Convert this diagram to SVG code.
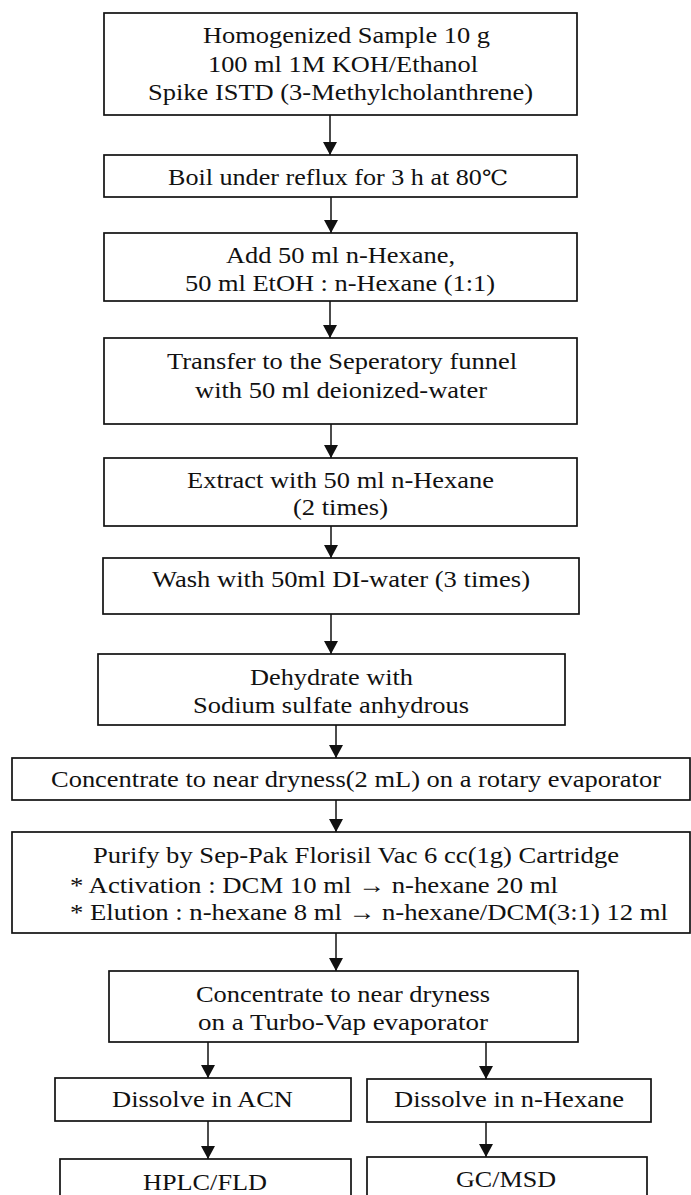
<svg xmlns="http://www.w3.org/2000/svg" width="691" height="1195" viewBox="0 0 691 1195">
  <style>
    .box { fill: #ffffff; stroke: #111111; stroke-width: 1.7; }
    .t { font-family: "Liberation Serif", "DejaVu Serif", "Noto Sans CJK KR", serif; font-size: 23.5px; fill: #111111; text-anchor: middle; }
    .s { text-anchor: start; }
    .link { stroke: #111111; stroke-width: 1.5; fill: none; marker-end: url(#arrow); }
  </style>
  <defs>
    <marker id="arrow" markerUnits="userSpaceOnUse" markerWidth="13" markerHeight="14" refX="13" refY="7" orient="auto">
      <path d="M0,0 L13,7 L0,14 z" fill="#111111"/>
    </marker>
  </defs>
  <rect width="691" height="1195" fill="#ffffff"/>

  <g id="connectors">
    <line class="link" x1="330" y1="115" x2="330" y2="155"/>
    <line class="link" x1="331" y1="197" x2="331" y2="233"/>
    <line class="link" x1="330" y1="301" x2="330" y2="338"/>
    <line class="link" x1="331" y1="424" x2="331" y2="458"/>
    <line class="link" x1="331" y1="526" x2="331" y2="558"/>
    <line class="link" x1="331" y1="614" x2="331" y2="654"/>
    <line class="link" x1="336" y1="725" x2="336" y2="758"/>
    <line class="link" x1="336" y1="800" x2="336" y2="832"/>
    <line class="link" x1="336" y1="933" x2="336" y2="971"/>
    <line class="link" x1="208" y1="1042" x2="208" y2="1078"/>
    <line class="link" x1="486" y1="1042" x2="486" y2="1079"/>
    <line class="link" x1="208" y1="1121" x2="208" y2="1159"/>
    <line class="link" x1="486" y1="1122" x2="486" y2="1157"/>
  </g>

  <g id="sample">
    <rect class="box" x="104" y="13" width="473" height="102"/>
    <text class="t" x="346.5" y="43" textLength="287" lengthAdjust="spacingAndGlyphs">Homogenized Sample 10 g</text>
    <text class="t" x="343" y="72" textLength="270" lengthAdjust="spacingAndGlyphs">100 ml 1M KOH/Ethanol</text>
    <text class="t" x="340.5" y="100" textLength="385" lengthAdjust="spacingAndGlyphs">Spike ISTD (3-Methylcholanthrene)</text>
  </g>

  <g id="reflux">
    <rect class="box" x="104" y="155" width="473" height="42"/>
    <text class="t" x="338" y="185" textLength="340" lengthAdjust="spacingAndGlyphs">Boil under reflux for 3 h at 80<tspan font-family="DejaVu Serif" font-size="21px">℃</tspan></text>
  </g>

  <g id="add-hexane">
    <rect class="box" x="104" y="233" width="473" height="68"/>
    <text class="t" x="340.5" y="263" textLength="229" lengthAdjust="spacingAndGlyphs">Add 50 ml n-Hexane,</text>
    <text class="t" x="340" y="291" textLength="310" lengthAdjust="spacingAndGlyphs">50 ml EtOH : n-Hexane (1:1)</text>
  </g>

  <g id="transfer">
    <rect class="box" x="104" y="338" width="473" height="86"/>
    <text class="t" x="342" y="369" textLength="350" lengthAdjust="spacingAndGlyphs">Transfer to the Seperatory funnel</text>
    <text class="t" x="341" y="398" textLength="292" lengthAdjust="spacingAndGlyphs">with 50 ml deionized-water</text>
  </g>

  <g id="extract">
    <rect class="box" x="104" y="458" width="473" height="68"/>
    <text class="t" x="340.5" y="488" textLength="307" lengthAdjust="spacingAndGlyphs">Extract with 50 ml n-Hexane</text>
    <text class="t" x="340.5" y="515" textLength="95" lengthAdjust="spacingAndGlyphs">(2 times)</text>
  </g>

  <g id="wash">
    <rect class="box" x="103" y="558" width="476" height="56"/>
    <text class="t" x="341" y="587" textLength="378" lengthAdjust="spacingAndGlyphs">Wash with 50ml DI-water (3 times)</text>
  </g>

  <g id="dehydrate">
    <rect class="box" x="98" y="654" width="467" height="71"/>
    <text class="t" x="331.5" y="685" textLength="163" lengthAdjust="spacingAndGlyphs">Dehydrate with</text>
    <text class="t" x="331" y="713" textLength="276" lengthAdjust="spacingAndGlyphs">Sodium sulfate anhydrous</text>
  </g>

  <g id="rotary">
    <rect class="box" x="12" y="758" width="678" height="42"/>
    <text class="t" x="356" y="787" textLength="610" lengthAdjust="spacingAndGlyphs">Concentrate to near dryness(2 mL) on a rotary evaporator</text>
  </g>

  <g id="purify">
    <rect class="box" x="12" y="832" width="678" height="101"/>
    <text class="t s" x="93" y="863" textLength="526" lengthAdjust="spacingAndGlyphs">Purify by Sep-Pak Florisil Vac 6 cc(1g) Cartridge</text>
    <text class="t s" x="70" y="893" textLength="488" lengthAdjust="spacingAndGlyphs">* Activation : DCM 10 ml → n-hexane 20 ml</text>
    <text class="t s" x="70" y="920" textLength="598" lengthAdjust="spacingAndGlyphs">* Elution : n-hexane 8 ml → n-hexane/DCM(3:1) 12 ml</text>
  </g>

  <g id="turbovap">
    <rect class="box" x="109" y="971" width="469" height="71"/>
    <text class="t" x="343" y="1002" textLength="294" lengthAdjust="spacingAndGlyphs">Concentrate to near dryness</text>
    <text class="t" x="343" y="1030" textLength="290" lengthAdjust="spacingAndGlyphs">on a Turbo-Vap evaporator</text>
  </g>

  <g id="dissolve-acn">
    <rect class="box" x="55" y="1078" width="296" height="43"/>
    <text class="t" x="202.5" y="1107" textLength="181" lengthAdjust="spacingAndGlyphs">Dissolve in ACN</text>
  </g>

  <g id="dissolve-hexane">
    <rect class="box" x="367" y="1079" width="284" height="43"/>
    <text class="t" x="509" y="1107" textLength="230" lengthAdjust="spacingAndGlyphs">Dissolve in n-Hexane</text>
  </g>

  <g id="hplc">
    <rect class="box" x="60" y="1159" width="291" height="60"/>
    <text class="t" x="205" y="1190" textLength="124" lengthAdjust="spacingAndGlyphs">HPLC/FLD</text>
  </g>

  <g id="gcms">
    <rect class="box" x="367" y="1157" width="280" height="60"/>
    <text class="t" x="506" y="1187" textLength="100" lengthAdjust="spacingAndGlyphs">GC/MSD</text>
  </g>
</svg>
